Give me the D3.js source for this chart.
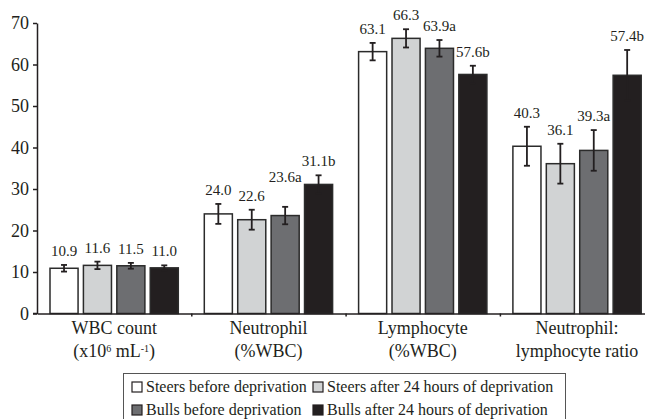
<!DOCTYPE html>
<html>
<head>
<meta charset="utf-8">
<script src="https://cdn.jsdelivr.net/npm/d3@7"></script>
<style>
  body { margin: 0; background: #fff; }
  svg text { font-family: "Liberation Serif", "DejaVu Serif", serif; fill: #231f20; }
</style>
</head>
<body>
<div id="chart"></div>
<script>
// categories (x axis), two lines each
var categories = ["wbc", "neut", "lymph", "ratio"];
var categoryLines = [
  ["WBC count", "(x10|6| mL|-1|)"],
  ["Neutrophil", "(%WBC)"],
  ["Lymphocyte", "(%WBC)"],
  ["Neutrophil:", "lymphocyte ratio"]
];

var groups = ["Steers before deprivation", "Steers after 24 hours of deprivation",
              "Bulls before deprivation", "Bulls after 24 hours of deprivation"];

// means
var steersBefore = [10.9, 24.0, 63.1, 40.3];
var steersAfter  = [11.6, 22.6, 66.3, 36.1];
var bullsBefore  = [11.5, 23.6, 63.9, 39.3];
var bullsAfter   = [11.0, 31.1, 57.6, 57.4];

// error bar half-lengths
var steersBeforeErr = [0.8, 2.4, 2.1, 4.7];
var steersAfterErr  = [0.9, 2.4, 2.2, 4.8];
var bullsBeforeErr  = [0.7, 2.1, 2.0, 4.9];
var bullsAfterErr   = [0.6, 2.2, 2.1, 6.1];

// significance letters
var bullsBeforeSig = ["", "a", "a", "a"];
var bullsAfterSig  = ["", "b", "b", "b"];

var yTicks = [0, 10, 20, 30, 40, 50, 60, 70];

var colors = ["#ffffff", "#d1d3d4", "#6d6e71", "#231f20"];

var series = [
  {name: groups[0], vals: steersBefore, err: steersBeforeErr, sig: ["", "", "", ""]},
  {name: groups[1], vals: steersAfter,  err: steersAfterErr,  sig: ["", "", "", ""]},
  {name: groups[2], vals: bullsBefore,  err: bullsBeforeErr,  sig: bullsBeforeSig},
  {name: groups[3], vals: bullsAfter,   err: bullsAfterErr,   sig: bullsAfterSig}
];

var W = 645, H = 419;
var mLeft = 37, mTop = 23, base = 313.5;
var groupW = 154.3;
var labelSize = 15;

var svg = d3.select("#chart").append("svg")
            .attr("width", W).attr("height", H);

var x0 = d3.scaleBand().domain(categories)
           .range([mLeft, mLeft + groupW * categories.length]);
var x1 = d3.scaleBand().domain(d3.range(series.length))
           .range([13, groupW - 13]).paddingInner(0.16);
var y = d3.scaleLinear().domain([0, 70]).range([base, mTop]);

// rough text width for serif digits / letters
function textW(s) {
  return d3.sum(s.split(""), ch => ch === "." ? 0.25 : (/[0-9]/.test(ch) ? 0.5 : 0.444)) * labelSize;
}

// flatten for drawing
var cells = [];
categories.forEach(function(c, ci) {
  series.forEach(function(s, si) {
    var lab = s.vals[ci].toFixed(1) + s.sig[ci];
    cells.push({cat: c, ci: ci, si: si, v: s.vals[ci], e: s.err[ci], label: lab,
                cx: x0(c) + x1(si) + x1.bandwidth() / 2, ly: y(s.vals[ci] + s.err[ci]) - 9});
  });
});

// lift a label that crowds its left neighbour at about the same height
for (var i = 1; i < cells.length; i++) {
  var a = cells[i - 1], b = cells[i];
  if (a.ci !== b.ci) continue;
  var gap = (b.cx - textW(b.label) / 2) - (a.cx + textW(a.label) / 2);
  if (gap < 6 && Math.abs(a.ly - b.ly) < 6) b.ly -= 16;
}

var bars = svg.append("g");
bars.selectAll("rect").data(cells).enter().append("rect")
    .attr("x", d => x0(d.cat) + x1(d.si))
    .attr("y", d => y(d.v))
    .attr("width", x1.bandwidth())
    .attr("height", d => base - y(d.v))
    .attr("fill", d => colors[d.si])
    .attr("stroke", "#2b2b2b")
    .attr("stroke-width", 1.5);

// error bars
var eb = svg.append("g").attr("stroke", "#231f20").attr("stroke-width", 1.8);
cells.forEach(function(d) {
  eb.append("line").attr("x1", d.cx).attr("x2", d.cx)
    .attr("y1", y(d.v + d.e)).attr("y2", y(d.v - d.e));
  [d.v + d.e, d.v - d.e].forEach(function(t) {
    eb.append("line").attr("x1", d.cx - 3).attr("x2", d.cx + 3)
      .attr("y1", y(t)).attr("y2", y(t));
  });
});

// value labels
svg.append("g").selectAll("text").data(cells).enter().append("text")
   .attr("x", d => d.cx)
   .attr("y", d => d.ly)
   .attr("text-anchor", "middle")
   .style("font-size", labelSize + "px")
   .text(d => d.label);

// y axis
var yAxis = svg.append("g").attr("transform", "translate(" + mLeft + ",0)")
   .call(d3.axisLeft(y).tickValues(yTicks).tickSize(4).tickSizeOuter(0).tickPadding(4));
yAxis.selectAll("text").style("font-size", "18px").attr("fill", "#231f20");
yAxis.selectAll("line,path").attr("stroke", "#231f20").attr("stroke-width", 1.5);

// x axis, ticks between categories
var xb = d3.scaleLinear().domain([0, categories.length])
           .range([mLeft, mLeft + groupW * categories.length]);
var xAxis = svg.append("g").attr("transform", "translate(0," + base + ")")
   .call(d3.axisBottom(xb).tickValues([1, 2, 3]).tickSize(3).tickSizeOuter(0).tickFormat(""));
xAxis.selectAll("line,path").attr("stroke", "#231f20").attr("stroke-width", 1.5);
svg.append("line").attr("x1", mLeft - 4).attr("x2", mLeft)
   .attr("y1", base).attr("y2", base).attr("stroke", "#231f20").attr("stroke-width", 1.5);

// category labels
var cl = svg.append("g");
categories.forEach(function(c, ci) {
  var cx = x0(c) + x0.bandwidth() / 2;
  categoryLines[ci].forEach(function(line, li) {
    var t = cl.append("text").attr("x", cx).attr("y", 334 + li * 23)
              .attr("text-anchor", "middle").style("font-size", "18px");
    // pieces between | are superscripts
    line.split("|").forEach(function(part, pi) {
      if (!part) return;
      var ts = t.append("tspan").text(part);
      if (pi % 2 === 1) ts.attr("baseline-shift", "super").style("font-size", "10px");
    });
  });
});

// legend
var lg = svg.append("g");
lg.append("rect").attr("x", 123.5).attr("y", 373.5).attr("width", 442).attr("height", 60)
  .attr("fill", "#fff").attr("stroke", "#555").attr("stroke-width", 1);
var colX = [132, 313], rowY = [382, 405];
series.forEach(function(s, i) {
  var gx = colX[i % 2], gy = rowY[Math.floor(i / 2)];
  lg.append("rect").attr("x", gx).attr("y", gy).attr("width", 10).attr("height", 10)
    .attr("fill", colors[i]).attr("stroke", "#231f20").attr("stroke-width", 1.2);
  lg.append("text").attr("x", gx + 14).attr("y", gy + 10)
    .style("font-size", "16px").text(s.name);
});
</script>
</body>
</html>
